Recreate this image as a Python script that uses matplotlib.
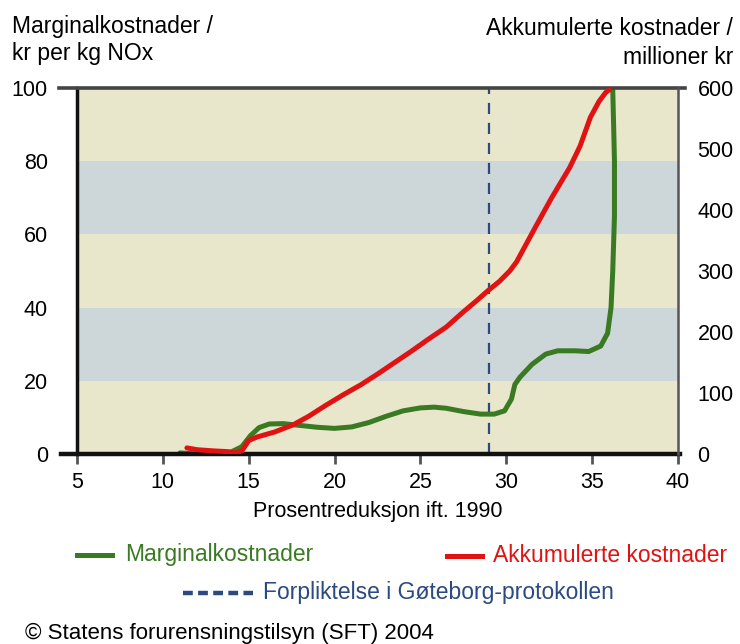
import matplotlib
matplotlib.use("Agg")
import matplotlib.pyplot as plt
from matplotlib.lines import Line2D

plt.rcParams['font.family'] = ['Liberation Sans', 'DejaVu Sans']

# marginal cost, kr per kg NOx (left axis)
marg_x = [11.0, 12.0, 13.0, 14.0, 14.6, 15.1, 15.6, 16.2, 17.0, 18.0, 19.0, 20.0,
          21.0, 22.0, 23.0, 24.0, 25.0, 25.8, 26.5, 27.5, 28.5, 29.3, 29.9, 30.3,
          30.5, 30.8, 31.5, 32.3, 33.0, 34.0, 34.8, 35.5, 35.9, 36.1, 36.2, 36.3,
          36.3, 36.25, 36.2]
marg_y = [0.3, 0.0, 0.1, 0.6, 2.0, 5.0, 7.2, 8.2, 8.3, 7.8, 7.3, 7.0,
          7.4, 8.6, 10.3, 11.8, 12.6, 12.8, 12.5, 11.6, 10.9, 10.9, 11.8, 15.0,
          19.0, 21.0, 24.5, 27.3, 28.2, 28.2, 28.0, 29.5, 33.0, 40.0, 50.0, 65.0,
          80.0, 90.0, 99.5]

# accumulated cost, million kr (right axis)
akk_x = [11.4, 12.0, 13.0, 13.7, 14.2, 14.6, 15.0, 15.5, 16.5, 17.6, 18.5, 19.5,
         20.5, 21.5, 22.5, 23.5, 24.5, 25.4, 26.5, 27.5, 28.3, 28.9, 29.6, 30.2,
         30.6, 31.6, 32.6, 33.7, 34.3, 34.9, 35.4, 35.8, 36.0]
akk_y = [10, 7, 5, 4, 2, 5, 22, 28, 36, 48, 62, 80,
         97, 113, 131, 150, 169, 187, 208, 233, 252, 267, 283, 300,
         315, 367, 418, 470, 505, 552, 578, 593, 597]

goteborg_x = 29.0
band_edges = [0, 20, 40, 60, 80, 100]
x_ticks = [5, 10, 15, 20, 25, 30, 35, 40]
left_ticks = [0, 20, 40, 60, 80, 100]
right_ticks = [0, 100, 200, 300, 400, 500, 600]

green = '#3a7a22'
red = '#e01212'
blue = '#2a4a80'
beige = '#e8e6cb'
grey = '#cdd6d8'

fig = plt.figure(figsize=(7.4, 6.44), dpi=100)
ax = fig.add_axes([77 / 740, 190 / 644, 601 / 740, 366 / 644])
ax2 = ax.twinx()

for i in range(len(band_edges) - 1):
    ax.axhspan(band_edges[i], band_edges[i + 1],
               color=grey if i % 2 else beige, lw=0, zorder=0)

ax.set_xlim(5, 40)
ax.set_ylim(0, 100)
ax2.set_ylim(0, 600)

ax.axvline(goteborg_x, color=blue, lw=1.6, dashes=(5, 4), zorder=2)
ax.plot(marg_x, marg_y, color=green, lw=3.6, solid_capstyle='round',
        solid_joinstyle='round', zorder=3)
ax2.plot(akk_x, akk_y, color=red, lw=3.6, solid_capstyle='round',
         solid_joinstyle='round', zorder=3)

for a in (ax, ax2):
    for s in a.spines.values():
        s.set_visible(False)
ax.spines['left'].set_visible(True)
ax.spines['left'].set_linewidth(2.5)
ax.spines['left'].set_color('#111111')
ax2.spines['right'].set_visible(True)
ax2.spines['right'].set_linewidth(1.8)
ax2.spines['right'].set_color('#555555')

# top and bottom frame lines reaching past the plot
yt = ax.get_yaxis_transform()
ax.plot([-0.03, 1.012], [100, 100], transform=yt, color='#444444', lw=2.6,
        clip_on=False, zorder=5)
ax.plot([-0.027, 1.004], [0, 0], transform=yt, color='#111111', lw=3.2,
        clip_on=False, zorder=5)

ax.set_xticks(x_ticks)
ax.set_yticks(left_ticks)
ax2.set_yticks(right_ticks)
ax.tick_params(axis='x', direction='out', length=7, width=2, color='#555555',
               labelsize=15.5, pad=6)
ax.tick_params(axis='y', length=0, labelsize=15.5, pad=21)
ax2.tick_params(axis='y', length=0, labelsize=15.5, pad=14)
ax.set_xlabel('Prosentreduksjon ift. 1990', fontsize=15.5, labelpad=6)

fig.text(12 / 740, 1 - 40 / 644, 'Marginalkostnader /\nkr per kg NOx',
         fontsize=16.5, ha='left', va='center', linespacing=1.25)
fig.text(733 / 740, 1 - 43 / 644, 'Akkumulerte kostnader /\nmillioner kr',
         fontsize=16.5, ha='right', va='center', multialignment='right',
         linespacing=1.3)

# legend
H = 644.0
fig.add_artist(Line2D([77 / 740, 112 / 740], [1 - 555 / H] * 2, color=green, lw=3.6))
fig.text(125 / 740, 1 - 555 / H, 'Marginalkostnader', color=green, fontsize=16.5,
         va='center')
fig.add_artist(Line2D([447 / 740, 482 / 740], [1 - 556 / H] * 2, color=red, lw=3.6))
fig.text(493 / 740, 1 - 556 / H, 'Akkumulerte kostnader', color=red, fontsize=16.5,
         va='center')
fig.add_artist(Line2D([183 / 740, 253 / 740], [1 - 593 / H] * 2, color=blue, lw=3.2,
                      dashes=(2.2, 1.2)))
fig.text(263 / 740, 1 - 593 / H, 'Forpliktelse i Gøteborg-protokollen', color=blue,
         fontsize=16.5, va='center')
fig.text(25 / 740, 1 - 633 / H, '© Statens forurensningstilsyn (SFT) 2004',
         fontsize=16, va='center')

fig.savefig('out.png', dpi=100)
